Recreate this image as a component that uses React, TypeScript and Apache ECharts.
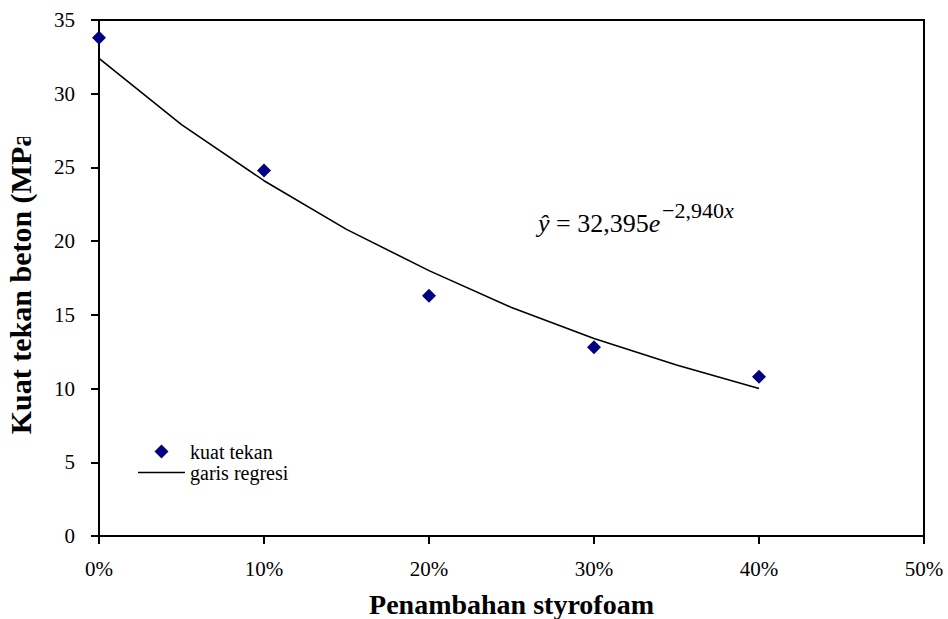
import React, { useEffect, useRef } from "react";
import * as echarts from "echarts";

const xLabelsPct = [0, 10, 20, 30, 40];
const kuatTekan = [33.8, 24.8, 16.3, 12.8, 10.8];
const regresiX = [0, 5, 10, 15, 20, 25, 30, 35, 40];
const regresiY = [32.4, 27.9, 24.1, 20.8, 18.0, 15.5, 13.4, 11.6, 10.0];
const yTicks = { min: 0, max: 35, interval: 5 };
const xTicks = { min: 0, max: 50, interval: 10 };

const FONT = "'Liberation Serif', 'Times New Roman', serif";
const DIAMOND_ICON = "path://M0,0 M47,14 M16.5,7 L23.5,0 L30.5,7 L23.5,14 Z";
const LINE_ICON = "path://M0,0 M47,14 M0,6.3 L47,6.3 L47,7.7 L0,7.7 Z";

export default function App() {
  const ref = useRef<HTMLDivElement>(null);
  useEffect(() => {
    if (!ref.current) return;
    const chart = echarts.init(ref.current, null, { renderer: "svg" });
    const option: any = {
      animation: false,
      backgroundColor: "#fff",
      grid: {
        left: 99,
        top: 20,
        width: 825,
        height: 516,
        outerBoundsMode: "none",
        containLabel: false,
        show: true,
        borderColor: "#000",
        borderWidth: 2,
        backgroundColor: "transparent",
      },
      xAxis: {
        type: "value",
        min: xTicks.min,
        max: xTicks.max,
        interval: xTicks.interval,
        name: "Penambahan styrofoam",
        nameLocation: "middle",
        nameGap: 54,
        nameTextStyle: { fontFamily: FONT, fontWeight: "bold", fontSize: 28, color: "#000" },
        axisLine: { show: true, lineStyle: { color: "#000", width: 2 } },
        axisTick: { show: true, length: 8, lineStyle: { color: "#000", width: 2 } },
        axisLabel: {
          formatter: "{value}%",
          margin: 22,
          fontFamily: FONT,
          fontSize: 21,
          color: "#000",
        },
        splitLine: { show: false },
      },
      yAxis: {
        type: "value",
        min: yTicks.min,
        max: yTicks.max,
        interval: yTicks.interval,
        name: "Kuat tekan beton (MPa)",
        nameLocation: "middle",
        nameGap: 64,
        nameTextStyle: { fontFamily: FONT, fontWeight: "bold", fontSize: 30, color: "#000" },
        axisLine: { show: true, lineStyle: { color: "#000", width: 2 } },
        axisTick: { show: true, length: 8, lineStyle: { color: "#000", width: 2 } },
        axisLabel: { margin: 24, fontFamily: FONT, fontSize: 21, color: "#000" },
        splitLine: { show: false },
      },
      legend: {
        orient: "vertical",
        left: 138,
        top: 441,
        padding: 0,
        itemWidth: 47,
        itemHeight: 14,
        itemGap: 0,
        itemTextGap: 7,
        data: [
          { name: "kuat tekan", icon: DIAMOND_ICON },
          { name: "garis regresi", icon: LINE_ICON },
        ],
        textStyle: { fontFamily: FONT, fontSize: 20, lineHeight: 21, color: "#000" },
      },
      series: [
        {
          name: "kuat tekan",
          type: "scatter",
          symbol: "diamond",
          symbolSize: [14, 14],
          itemStyle: { color: "#000080", opacity: 1 },
          data: xLabelsPct.map((x, i) => [x, kuatTekan[i]]),
          z: 3,
        },
        {
          name: "garis regresi",
          type: "line",
          symbol: "none",
          itemStyle: { color: "#000" },
          lineStyle: { color: "#000", width: 1.6 },
          data: regresiX.map((x, i) => [x, regresiY[i]]),
          z: 2,
        },
      ],
      graphic: [
        {
          type: "rect",
          z: 100,
          shape: { x: 0, y: 0, width: 50, height: 137 },
          style: { fill: "#fff" },
        },
        {
          type: "text",
          z: 100,
          x: 538,
          y: 236,
          style: {
            text: "{i|ŷ} = 32,395{i|e}",
            fontFamily: FONT,
            fontSize: 26,
            fill: "#000",
            verticalAlign: "bottom",
            rich: {
              i: { fontStyle: "italic", fontFamily: FONT, fontSize: 26, fill: "#000" },
            },
          },
        },
        {
          type: "text",
          z: 100,
          x: 662,
          y: 221,
          style: {
            text: "−2,940{i|x}",
            fontFamily: FONT,
            fontSize: 22,
            fill: "#000",
            verticalAlign: "bottom",
            rich: {
              i: { fontStyle: "italic", fontFamily: FONT, fontSize: 22, fill: "#000" },
            },
          },
        },
      ],
    };
    chart.setOption(option);
    return () => chart.dispose();
  }, []);
  return <div ref={ref} style={{ width: 948, height: 619, position: "absolute", left: 0, top: 0 }} />;
}
